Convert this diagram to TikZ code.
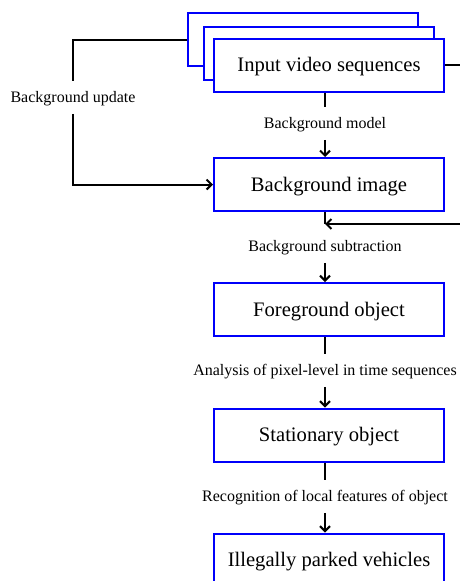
\documentclass[tikz,border=0pt]{standalone}
\usepackage{fontspec}
\setmainfont{Liberation Serif}
\usetikzlibrary{arrows.meta}
\definecolor{stageblue}{RGB}{0,0,250}

\begin{document}
\begin{tikzpicture}[x = 1pt, y = -1pt, >={Straight Barb[length=5pt,width=10pt]},
        stagebox/.style = {draw=stageblue, line width=2pt, fill=white, minimum width=230pt, minimum height=53pt, inner sep=0pt, text height=13.6pt, text depth=0pt, font=\fontsize{20.6}{24}\selectfont},
        steplabel/.style = {inner xsep=0pt, inner ysep=11pt, text height=10.5pt, text depth=0pt, font=\fontsize{16}{19}\selectfont},
        flow/.style = {line width=2pt}]
        \useasboundingbox (0,0) rectangle (459,581);
        % stacked input frames
        \node[stagebox] (back) at (303,39.5) {};
        \node[stagebox] (middle) at (319,53.5) {};
        \node[stagebox] (input) at (329,65) {Input video sequences};
        \node[stagebox] (bgimage) at (329,184.5) {Background image};
        \node[stagebox] (foreground) at (329,309.5) {Foreground object};
        \node[stagebox] (stationary) at (329,435) {Stationary object};
        \node[stagebox] (illegal) at (329,560) {Illegally parked vehicles};
        % step labels
        \node[steplabel] (bgmodel) at (325,123.5) {Background model};
        \node[steplabel] (subtract) at (325,246.5) {Background subtraction};
        \node[steplabel] (pixel) at (325,370.5) {Analysis of pixel-level in time sequences};
        \node[steplabel] (features) at (325,496.5) {Recognition of local features of object};
        \node[steplabel] (update) at (73,97.5) {Background update};
        \coordinate (feedback) at (325,224);
        \coordinate (rightedge) at (472,145);
        % connectors
        \draw[flow] (input.south -| bgmodel.north) -- (bgmodel.north);
        \draw[flow, ->] (bgmodel.south) -- (bgimage.north -| bgmodel.south);
        \draw[flow] (bgimage.south -| subtract.north) -- (feedback);
        \draw[flow, ->] (subtract.south) -- (foreground.north -| subtract.south);
        \draw[flow] (foreground.south -| pixel.north) -- (pixel.north);
        \draw[flow, ->] (pixel.south) -- (stationary.north -| pixel.south);
        \draw[flow] (stationary.south -| features.north) -- (features.north);
        \draw[flow, ->] (features.south) -- (illegal.north -| features.south);
        \draw[flow] (back.west) -| (update.north);
        \draw[flow, ->] (update.south) |- (bgimage.west);
        \draw[flow, ->] (input.east) -| (rightedge) |- (feedback);
\end{tikzpicture}
\end{document}
